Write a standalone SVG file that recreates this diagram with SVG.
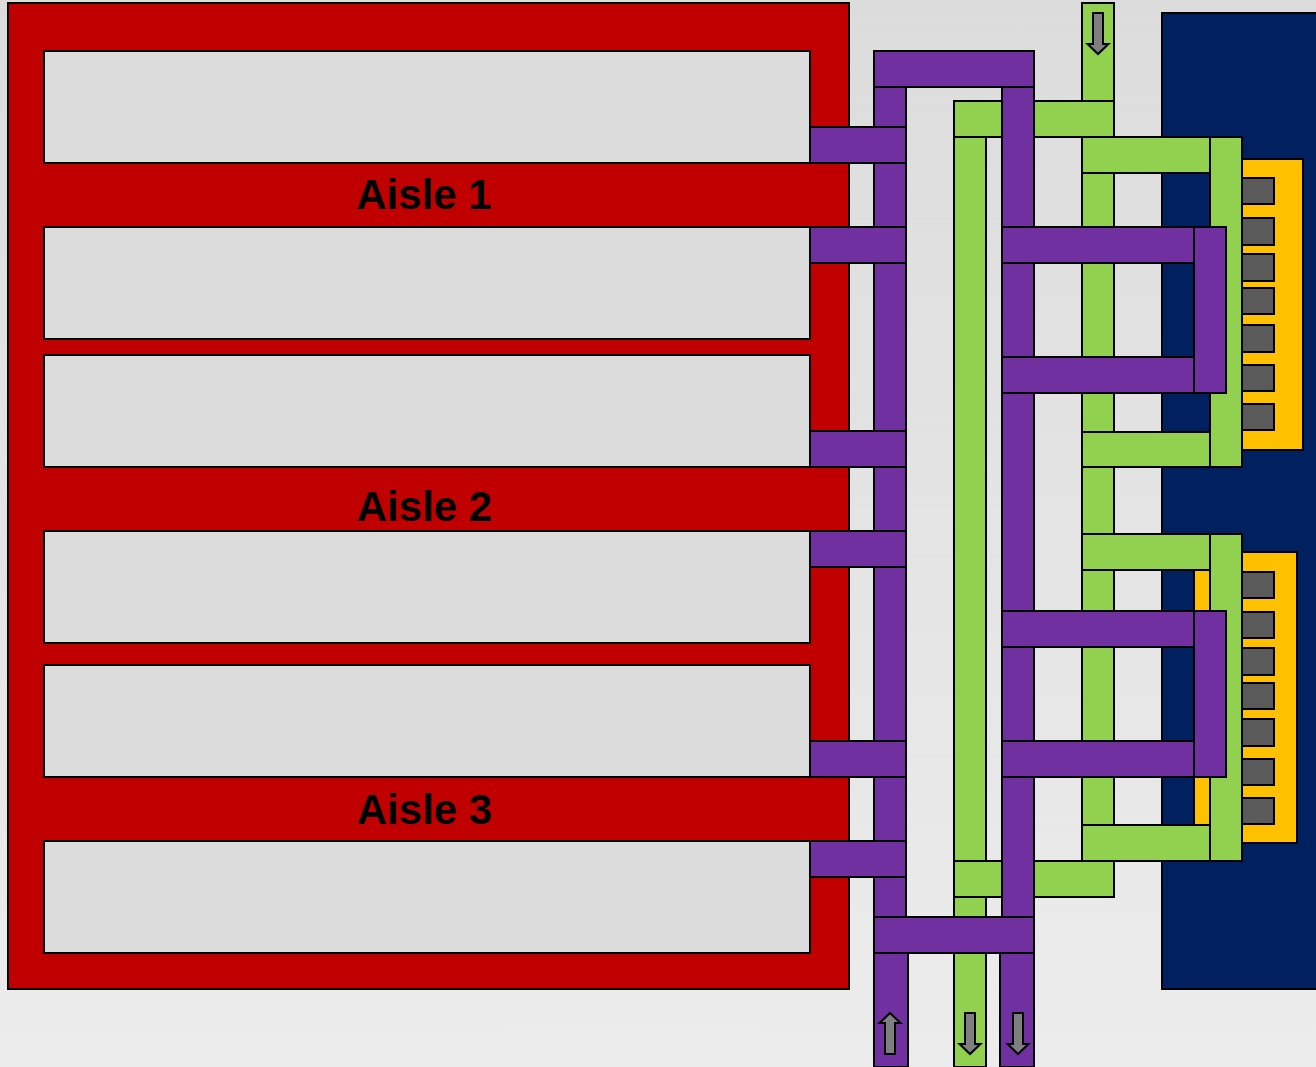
<svg xmlns="http://www.w3.org/2000/svg" width="1316" height="1067" viewBox="0 0 1316 1067">
<style>
rect,path{stroke:#000;stroke-width:2}
.bg{stroke:none}
.navy{fill:#002060}.yel{fill:#ffc000}.gray{fill:#5a5a5a}.red{fill:#c00000}.pur{fill:#7030a0}.grn{fill:#92d050}
.hole{fill:#dcdcdc}
.arr{fill:#7f7f7f;stroke-width:2}
text{font-family:"Liberation Sans",Arial,sans-serif;font-weight:700;font-size:42px;fill:#000;text-anchor:middle}
</style>
<defs>
<linearGradient id="g" gradientUnits="userSpaceOnUse" x1="0" y1="0" x2="0" y2="1067"><stop offset="0" stop-color="#dcdcdc"/><stop offset="1" stop-color="#ececec"/></linearGradient>
<path id="down" class="arr" d="M-5 0H5V31H10.500L0 41L-10.500 31H-5Z"/>
</defs>
<rect class="bg" fill="url(#g)" width="1316" height="1067"/>
<g id="rack">
<rect class="navy" x="1162" y="13" width="170" height="976"/>
<rect class="yel" x="1230" y="159" width="73" height="291"/>
<rect class="yel" x="1194" y="552" width="103" height="291"/>
<g>
<rect class="gray" x="1242" y="178" width="32" height="26"/><rect class="gray" x="1242" y="218" width="32" height="27"/><rect class="gray" x="1242" y="254" width="32" height="27"/><rect class="gray" x="1242" y="288" width="32" height="26"/><rect class="gray" x="1242" y="325" width="32" height="27"/><rect class="gray" x="1242" y="365" width="32" height="26"/><rect class="gray" x="1242" y="404" width="32" height="26"/>
<rect class="gray" x="1242" y="572" width="32" height="26"/><rect class="gray" x="1242" y="612" width="32" height="26"/><rect class="gray" x="1242" y="648" width="32" height="27"/><rect class="gray" x="1242" y="683" width="32" height="26"/><rect class="gray" x="1242" y="719" width="32" height="27"/><rect class="gray" x="1242" y="759" width="32" height="26"/><rect class="gray" x="1242" y="798" width="32" height="26"/>
</g>
</g>
<g id="aisles">
<rect class="red" x="8" y="3" width="841" height="986"/>
<rect class="hole" x="44" y="51" width="766" height="112"/>
<rect class="hole" x="44" y="227" width="766" height="112"/>
<rect class="hole" x="44" y="355" width="766" height="112"/>
<rect class="hole" x="44" y="531" width="766" height="112"/>
<rect class="hole" x="44" y="665" width="766" height="112"/>
<rect class="hole" x="44" y="841" width="766" height="112"/>
<text x="424" y="209">Aisle 1</text>
<text x="424.500" y="521">Aisle 2</text>
<text x="424.500" y="824">Aisle 3</text>
</g>
<g id="connectors">
<g id="green-ducts">
<rect class="grn" x="1082" y="3" width="32" height="98"/>
<rect class="grn" x="1082" y="137" width="32" height="724"/>
<rect class="grn" x="954" y="137" width="32" height="930"/>
<rect class="grn" x="954" y="101" width="160" height="36"/>
<rect class="grn" x="954" y="861" width="160" height="36"/>
<rect class="grn" x="1082" y="137" width="128" height="36"/>
<rect class="grn" x="1082" y="432" width="128" height="35"/>
<rect class="grn" x="1082" y="534" width="128" height="36"/>
<rect class="grn" x="1082" y="825" width="128" height="36"/>
<rect class="grn" x="1210" y="137" width="32" height="330"/>
<rect class="grn" x="1210" y="534" width="32" height="327"/>
</g>
<g id="purple-ducts">
<rect class="pur" x="874" y="87" width="32" height="830"/>
<rect class="pur" x="1002" y="87" width="32" height="830"/>
<rect class="pur" x="874" y="953" width="34" height="114"/>
<rect class="pur" x="1000" y="953" width="34" height="114"/>
<rect class="pur" x="874" y="51" width="160" height="36"/>
<rect class="pur" x="874" y="917" width="160" height="36"/>
<rect class="pur" x="810" y="127" width="96" height="36"/>
<rect class="pur" x="810" y="227" width="96" height="36"/>
<rect class="pur" x="810" y="431" width="96" height="36"/>
<rect class="pur" x="810" y="531" width="96" height="36"/>
<rect class="pur" x="810" y="741" width="96" height="36"/>
<rect class="pur" x="810" y="841" width="96" height="36"/>
<rect class="pur" x="1002" y="227" width="192" height="36"/>
<rect class="pur" x="1002" y="357" width="192" height="36"/>
<rect class="pur" x="1002" y="611" width="192" height="36"/>
<rect class="pur" x="1002" y="741" width="192" height="36"/>
<rect class="pur" x="1194" y="227" width="32" height="166"/>
<rect class="pur" x="1194" y="611" width="32" height="166"/>
</g>
<g id="arrows">
<use href="#down" x="1098" y="13"/>
<use href="#down" x="970" y="1013"/>
<use href="#down" x="1018" y="1013"/>
<use href="#down" transform="translate(890 1054) scale(1 -1)"/>
</g>
</g>
</svg>
